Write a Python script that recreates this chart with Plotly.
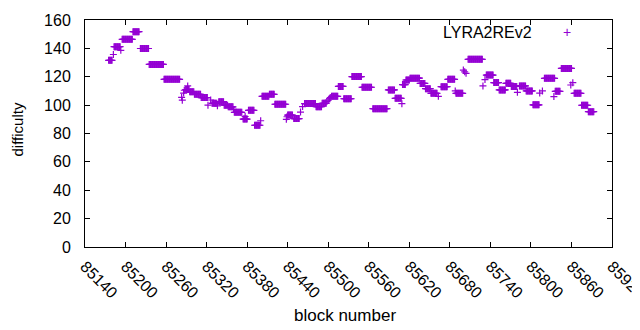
import plotly.graph_objects as go

# Runs of constant difficulty: (first block, last block, difficulty)
run_start = [85175, 85182, 85183, 85193, 85195, 85211, 85222, 85235, 85257,
             85283, 85284, 85286, 85287, 85289, 85292, 85295, 85302, 85312,
             85322, 85326, 85328, 85336, 85338, 85346, 85352, 85360, 85361,
             85374, 85377, 85382, 85391, 85400, 85402, 85413, 85421, 85438,
             85439, 85440, 85449, 85459, 85462, 85465, 85482, 85491, 85498,
             85500, 85502, 85503, 85505, 85515, 85523, 85535, 85550, 85566,
             85589, 85599, 85609, 85610, 85615, 85621, 85636, 85644, 85652,
             85663, 85667, 85677, 85688, 85689, 85700, 85702, 85704, 85707,
             85729, 85732, 85734, 85745, 85753, 85763, 85771, 85780, 85783,
             85793, 85803, 85813, 85817, 85820, 85834, 85836, 85845, 85859,
             85862, 85864, 85875, 85885]
run_end = [85180, 85182, 85192, 85193, 85210, 85220, 85234, 85256, 85280,
           85283, 85284, 85286, 85287, 85294, 85292, 85301, 85311, 85321,
           85322, 85326, 85335, 85336, 85345, 85351, 85359, 85360, 85372,
           85380, 85377, 85390, 85399, 85400, 85412, 85420, 85437, 85438,
           85439, 85447, 85457, 85459, 85462, 85481, 85490, 85497, 85498,
           85500, 85502, 85503, 85514, 85522, 85534, 85549, 85564, 85587,
           85598, 85608, 85609, 85614, 85620, 85635, 85643, 85651, 85661,
           85663, 85676, 85687, 85688, 85699, 85700, 85702, 85704, 85728,
           85729, 85732, 85744, 85752, 85762, 85770, 85779, 85780, 85792,
           85802, 85812, 85813, 85817, 85835, 85834, 85843, 85860, 85859,
           85862, 85874, 85884, 85893]
run_diff = [131.6, 135.7, 141.2, 138.6, 146.4, 151.8, 139.9, 128.7, 118.2,
            105.5, 103.5, 108.5, 110.5, 111.0, 113.5, 109.5, 107.6, 105.3,
            100.0, 103.6, 101.3, 99.5, 102.4, 99.9, 98.8, 97.0, 94.9,
            90.2, 92.0, 96.3, 85.8, 89.0, 106.2, 107.6, 100.6, 90.0,
            91.8, 93.0, 90.5, 95.1, 99.0, 101.1, 98.9, 101.3, 102.5,
            103.5, 104.5, 105.3, 106.2, 113.2, 104.5, 120.1, 112.6, 97.5,
            110.7, 104.8, 101.0, 114.5, 117.7, 119.0, 115.3, 111.6, 108.3,
            106.2, 113.0, 118.2, 110.0, 108.3, 124.7, 123.5, 122.4, 132.3,
            113.5, 118.0, 121.2, 115.9, 110.7, 115.4, 113.2, 109.0, 113.5,
            110.0, 100.2, 108.5, 110.0, 118.9, 106.0, 109.7, 125.9, 114.2,
            115.8, 108.3, 99.9, 95.4]

x_ticks = [85140, 85200, 85260, 85320, 85380, 85440, 85500, 85560,
           85620, 85680, 85740, 85800, 85860, 85920]
y_ticks = [0, 20, 40, 60, 80, 100, 120, 140, 160]
series_name = "LYRA2REv2"

blocks, diffs = [], []
for s, e, v in zip(run_start, run_end, run_diff):
    for b in range(s, e + 1):
        blocks.append(b)
        diffs.append(v)

COLOR = "#9400D3"
FONT = "Liberation Sans"

fig = go.Figure()
fig.add_trace(go.Scatter(
    x=blocks, y=diffs, mode="markers", name=series_name, showlegend=False,
    marker=dict(symbol="cross-thin", size=5, color=COLOR,
                line=dict(color=COLOR, width=1.2)),
))

axis_common = dict(showline=True, linecolor="black", linewidth=1, mirror="ticks",
                   ticks="inside", ticklen=5, tickcolor="black", showgrid=False,
                   zeroline=False, automargin=False, ticklabeloverflow="allow",
                   tickfont=dict(family=FONT, size=16, color="black"))

fig.update_xaxes(range=[85140, 85920], tickvals=x_ticks,
                 ticktext=[str(t) for t in x_ticks], tickangle=45,
                 ticklabelstandoff=3, **axis_common)
fig.update_yaxes(range=[0, 160], tickvals=y_ticks,
                 ticktext=[str(t) for t in y_ticks],
                 ticklabelstandoff=10, **axis_common)

# The page body has an 8 px margin, so the figure is sized/offset to compensate.
fig.update_layout(
    width=632, height=322, autosize=False,
    margin=dict(l=77, r=28, t=12, b=83),
    paper_bgcolor="white", plot_bgcolor="white",
    font=dict(family=FONT, size=16, color="black"),
    annotations=[
        dict(text="difficulty", xref="paper", yref="paper", x=0, y=0.5,
             xshift=-68, yshift=4, textangle=-90, showarrow=False,
             xanchor="center", yanchor="middle", font=dict(family=FONT, size=15)),
        dict(text="block number", xref="paper", yref="paper", x=0.5, y=0,
             xshift=-4, yshift=-68, showarrow=False,
             xanchor="center", yanchor="middle", font=dict(family=FONT, size=17)),
        dict(text=series_name, xref="paper", yref="paper", x=0.852, y=0.947,
             showarrow=False, xanchor="right", yanchor="middle",
             font=dict(family=FONT, size=16)),
        dict(text="+", xref="paper", yref="paper", x=0.9146, y=0.947,
             showarrow=False, xanchor="center", yanchor="middle",
             font=dict(family=FONT, size=14, color=COLOR)),
    ],
)

fig.write_html("out.html")
